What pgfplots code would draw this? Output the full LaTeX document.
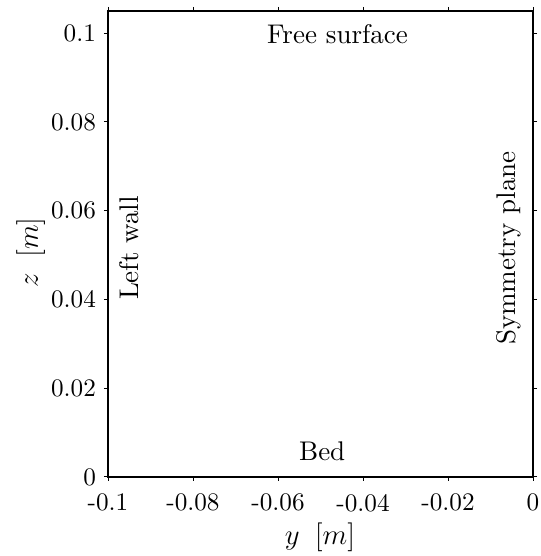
\documentclass[border=0pt]{standalone}
\usepackage{fontspec}
\setmainfont{lmroman10-regular}[Extension=.otf, ItalicFont=lmroman10-italic, BoldFont=lmroman10-bold]
\usepackage{pgfplots}
\pgfplotsset{compat=1.18}
\usetikzlibrary{calc}
\begin{document}
\begin{tikzpicture}
\begin{axis}[
  scale only axis,
  width=212.5pt, height=233pt,
  xmin=-0.1, xmax=0, ymin=0, ymax=0.105,
  xtick={-0.1,-0.08,-0.06,-0.04,-0.02,0},
  xticklabels={-0.1,-0.08,-0.06,-0.04,-0.02,0},
  ytick={0,0.02,0.04,0.06,0.08,0.1},
  yticklabels={0,0.02,0.04,0.06,0.08,0.1},
  scaled ticks=false,
  tick align=outside,
  tick pos=both,
  major tick length=2pt,
  axis line style={line width=1pt},
  every tick/.style={black, line width=0.5pt},
  tick label style={font=\fontsize{12.6}{14}\selectfont},
  xticklabel style={yshift=-3pt},
  yticklabel style={xshift=-0.5pt},
  /pgf/number format/assume math mode=true,
  xlabel={$y\ \,[m]$},
  ylabel={$z\ \,[m]$},
  label style={font=\fontsize{15.5}{18}\selectfont},
  xlabel style={at={(axis description cs:0.499,-0.129)}, anchor=center},
  ylabel style={at={(axis description cs:-0.182,0.482)}, anchor=center, rotate=0},
]
\addplot[draw=none, forget plot] coordinates {(-0.1,0) (0,0.105)};
\node[font=\fontsize{13.5}{15}\selectfont, anchor=center] at (axis cs:-0.046,0.0998) {Free surface};
\node[font=\fontsize{13.5}{15}\selectfont, anchor=center, rotate=90] at (axis cs:-0.0951,0.0516) {Left wall};
\node[font=\fontsize{13.5}{15}\selectfont, anchor=center, rotate=90] at (axis cs:-0.0056,0.0516) {Symmetry plane};
\node[font=\fontsize{13.5}{15}\selectfont, anchor=center] at (axis cs:-0.0496,0.0059) {Bed};
\end{axis}
\pgfresetboundingbox
\useasboundingbox ($(current axis.south west)+(-54pt,-39.5pt)$) rectangle ($(current axis.north east)+(3.5pt,5.5pt)$);
\end{tikzpicture}
\end{document}
